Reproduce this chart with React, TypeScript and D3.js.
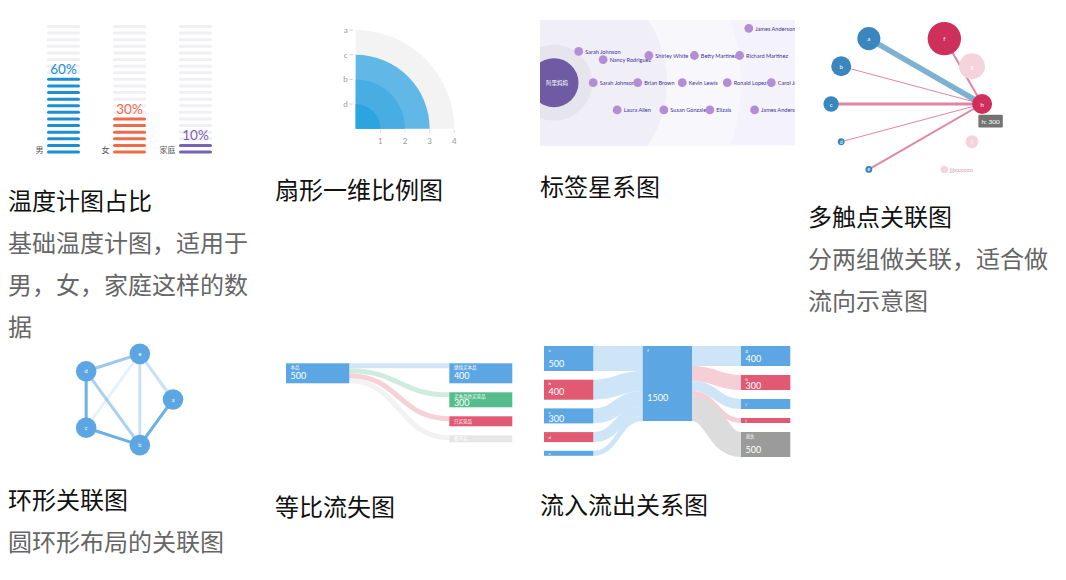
import * as d3 from "d3";

const W = 1066;
const H = 580;
const CJK = "'Noto Sans CJK SC', sans-serif";
const LATIN = "Lato, 'Noto Sans CJK SC', sans-serif";

// 温度计图占比
const thermoCats = ["男", "女", "家庭"];
const thermoValues = [60, 30, 10];
const STRIPES = 20;

// 扇形一维比例图
const fanCats = ["a", "c", "b", "d"];
const fanValues = [4, 3, 2, 1];
const fanTicks = [1, 2, 3, 4];

// 标签星系图
const starCenter = "阿里妈妈";
const starNames = [
  "James Anderson", "Sarah Johnson", "Nancy Rodriguez", "Shirley White", "Betty Martinez",
  "Richard Martinez", "Sarah Johnson", "Brian Brown", "Kevin Lewis", "Ronald Lopez",
  "Carol Jones", "Laura Allen", "Susan Gonzalez", "Elizais", "James Anderson",
];
const starDist = [80.5, 10.2, 20.3, 39.2, 58, 76.7, 16.2, 34.6, 53, 71.6, 89.8, 26.1, 45.4, 64.4, 82.9];
const starLat = [-2, -1.15, -0.85, -1, -1, -1, 0, 0, 0, 0, 0, 1, 1, 1, 1];
const starRings = [77.3, 46.7, 15.7];

// 多触点关联图
const touchLeft = ["a", "b", "c", "d", "e"];
const touchLeftValues = [400, 300, 180, 35, 35];
const touchRight = ["f", "g", "h", "i", "jjjxxxooo"];
const touchRightValues = [840, 500, 300, 125, 40];
const touchTarget = "h";
const touchLinkSources = ["a", "b", "c", "d", "e", "f"];
const touchLinkValues = [110, 20, 60, 20, 40, 40];

// 环形关联图
const ringNodes = ["a", "b", "c", "d", "e"];
const ringLinks: [string, string][] = [
  ["e", "d"], ["e", "a"], ["e", "b"], ["e", "c"], ["d", "c"], ["d", "b"], ["c", "b"], ["a", "b"],
];
const ringLinkValues = [6, 3, 3, 1, 9, 5, 9, 9];

// 等比流失图
const lossSource = "本品";
const lossSourceValue = 500;
const lossTargets = ["继续买本品", "买本品也买竞品", "只买竞品", "都不买"];
const lossValues = [400, 300, 200, 100];

// 流入流出关系图
const flowIn = ["a", "b", "c", "d", "e"];
const flowInValues = [500, 400, 300, 200, 100];
const flowHub = "f";
const flowOut = ["g", "h", "i", "j", "流失"];
const flowOutValues = [400, 300, 200, 100, 500];

const BLUE = "#5ca7e3";
const RED = "#e15a74";
const GREEN = "#55bd8b";
const GRAY = "#9b9b9b";
const tint = (c: string, k: number) => d3.interpolateRgb("#ffffff", c)(k);

function Thermo() {
  const colors = ["#1b8fd2", "#f06a48", "#7a62b6"];
  const x = d3.scaleBand<string>().domain(thermoCats).range([47, 212]).paddingInner(0.5);
  const y = d3.scaleLinear().domain([0, STRIPES - 1]).range([152, 26.5]);
  const count = d3.scaleLinear().domain([0, 100]).range([0, STRIPES]);
  return (
    <g>
      {thermoCats.map((c, i) => {
        const n = Math.round(count(thermoValues[i]));
        const x0 = x(c)!;
        return (
          <g key={c}>
            {d3.range(STRIPES).map((k) => (
              <rect key={k} x={x0} y={y(k) - 1.5} width={x.bandwidth()} height={3} rx={1.5}
                fill={k < n ? colors[i] : "#efeff4"} />
            ))}
            <text x={x0 + x.bandwidth() / 2} y={y(n - 1) - 10.3} textAnchor="middle"
              dominantBaseline="central" fontSize={13.5} fill={colors[i]}
              fontFamily={LATIN}>{thermoValues[i]}%</text>
            <text x={x0 - 3.5} y={y(0) - 2.5} textAnchor="end" dominantBaseline="central"
              fontSize={8} fill="#555" fontFamily={CJK}>{c}</text>
          </g>
        );
      })}
    </g>
  );
}

function Fan() {
  const cx = 355.7;
  const cy = 128.7;
  const colors = ["#f3f3f3", "#61b8e7", "#47ade3", "#2ba4df"];
  const r = d3.scaleLinear().domain([0, 4]).range([0, 98.6]);
  const arc = d3.arc<number>().innerRadius(0).outerRadius((d) => r(d)).startAngle(0).endAngle(Math.PI / 2);
  return (
    <g>
      {fanValues.map((v, i) => (
        <path key={fanCats[i]} d={arc(v) ?? ""} transform={`translate(${cx},${cy})`} fill={colors[i]} />
      ))}
      {fanCats.map((c, i) => (
        <g key={c}>
          <line x1={cx - 6} x2={cx - 3} y1={cy - r(fanValues[i])} y2={cy - r(fanValues[i])} stroke="#ccc" />
          <text x={cx - 8} y={cy - r(fanValues[i])} textAnchor="end" dominantBaseline="central"
            fontSize={8} fill="#999" fontFamily={LATIN}>{c}</text>
        </g>
      ))}
      {fanTicks.map((t) => (
        <g key={t}>
          <line x1={cx + r(t)} x2={cx + r(t)} y1={cy + 1} y2={cy + 4} stroke="#ddd" />
          <text x={cx + r(t)} y={cy + 12.5} textAnchor="middle" dominantBaseline="central"
            fontSize={8} fill="#999" fontFamily={LATIN}>{t}</text>
        </g>
      ))}
    </g>
  );
}

function Star() {
  const box = { x: 540, y: 20, w: 255, h: 125.7 };
  const cx = 554;
  const cy = 82.7;
  const x = d3.scaleLinear().domain([0, 100]).range([cx, cx + 242]);
  const y = d3.scaleLinear().domain([-1, 1]).range([cy - 27.2, cy + 27.2]);
  const ringFill = ["#f8f7fc", "#f0eef6", "#e6e4ec"];
  return (
    <g>
      <defs>
        <clipPath id="starclip">
          <rect x={box.x} y={box.y} width={box.w} height={box.h} />
        </clipPath>
      </defs>
      <g clipPath="url(#starclip)">
        <rect x={box.x} y={box.y} width={box.w} height={box.h} fill="#f4f2fa" />
        {starRings.map((d, i) => (
          <circle key={i} cx={cx} cy={cy} r={x(d) - cx} fill={ringFill[i]} />
        ))}
        <circle cx={cx} cy={cy} r={24.5} fill="#6f5ba4" />
        <text x={cx + 3} y={cy} textAnchor="middle" dominantBaseline="central" fontSize={5.5}
          fill="#fff" fontFamily={CJK}>{starCenter}</text>
        {starNames.map((n, i) => (
          <text key={"t" + i} x={x(starDist[i]) + 6.5} y={y(starLat[i])} dominantBaseline="central"
            fontSize={5.6} fill="#3f3399" fontFamily={LATIN}>{n}</text>
        ))}
        {starNames.map((n, i) => (
          <circle key={"c" + i} cx={x(starDist[i])} cy={y(starLat[i])} r={4.4} fill="#b48dd6" />
        ))}
      </g>
    </g>
  );
}

function Touch() {
  const c = { x: 906.6, y: 104 };
  const R = 75.5;
  const ang = d3.scaleLinear().domain([0, 4]).range([60, -60]);
  const rS = d3.scaleSqrt().domain([0, 840]).range([0, 16.7]);
  const wS = d3.scaleLinear().domain([0, 110]).range([0, 5.5]);
  const place = (names: string[], vals: number[], side: number) =>
    names.map((n, i) => {
      const a = (ang(i) * Math.PI) / 180;
      return { name: n, v: vals[i], x: c.x + side * R * Math.cos(a), y: c.y - R * Math.sin(a), r: rS(vals[i]) };
    });
  const left = place(touchLeft, touchLeftValues, -1);
  const right = place(touchRight, touchRightValues, 1);
  const all = [...left, ...right];
  const tgt = all.find((d) => d.name === touchTarget)!;
  const active = new Set([touchTarget, ...touchLinkSources]);
  return (
    <g>
      {touchLinkSources.map((s, i) => {
        const src = all.find((d) => d.name === s)!;
        const blue = touchLeft.includes(s) && i === 0;
        return (
          <line key={s} x1={src.x} y1={src.y} x2={tgt.x} y2={tgt.y} strokeWidth={wS(touchLinkValues[i])}
            stroke={blue ? "#6fa9cc" : "#d8678b"} strokeOpacity={blue ? 0.9 : 0.8} />
        );
      })}
      {left.map((d) => (
        <g key={d.name}>
          <circle cx={d.x} cy={d.y} r={d.r} fill="#3a86bf" />
          <text x={d.x} y={d.y} textAnchor="middle" dominantBaseline="central" fontSize={Math.min(6, d.r * 1.4)}
            fill="#fff" fontFamily={LATIN}>{d.name}</text>
        </g>
      ))}
      {right.map((d, i) => {
        const on = active.has(d.name);
        const last = i === right.length - 1;
        return (
          <g key={d.name}>
            <circle cx={d.x} cy={d.y} r={d.r} fill={on ? "#cf2f5b" : "#f4d3dd"} />
            {last ? (
              <text x={d.x + d.r + 1.8} y={d.y} dominantBaseline="central" fontSize={6}
                fill="#e3a0b5" fontFamily={LATIN}>{d.name}</text>
            ) : (
              <text x={d.x} y={d.y} textAnchor="middle" dominantBaseline="central" fontSize={6}
                fill="#fff" fontFamily={LATIN}>{d.name}</text>
            )}
          </g>
        );
      })}
      <rect x={tgt.x - 3.7} y={tgt.y + 10.7} width={24.4} height={12.7} rx={1} fill="#737373" />
      <text x={tgt.x + 8.5} y={tgt.y + 17.1} textAnchor="middle" dominantBaseline="central" fontSize={6.5}
        fill="#fff" fontFamily={LATIN}>{`${tgt.name}: ${tgt.v}`}</text>
    </g>
  );
}

function Ring() {
  const c = { x: 125, y: 399.5 };
  const R = 48;
  const ang = d3.scaleLinear().domain([0, ringNodes.length]).range([0, 2 * Math.PI]);
  const pos = new Map(ringNodes.map((n, i) => [n, { x: c.x + R * Math.cos(ang(i)), y: c.y + R * Math.sin(ang(i)) }]));
  const op = d3.scaleLinear().domain([0, 9]).range([0.06, 0.9]);
  return (
    <g>
      {ringLinks.map(([s, t], i) => (
        <line key={s + t} x1={pos.get(s)!.x} y1={pos.get(s)!.y} x2={pos.get(t)!.x} y2={pos.get(t)!.y}
          stroke={BLUE} strokeWidth={3} strokeOpacity={op(ringLinkValues[i])} />
      ))}
      {ringNodes.map((n) => (
        <g key={n}>
          <circle cx={pos.get(n)!.x} cy={pos.get(n)!.y} r={10.3} fill={BLUE} />
          <text x={pos.get(n)!.x} y={pos.get(n)!.y} textAnchor="middle" dominantBaseline="central"
            fontSize={5.5} fill="#fff" fontFamily={LATIN}>{n}</text>
        </g>
      ))}
    </g>
  );
}

type Box = { x: number; y: number; w: number; h: number; fill: string; name: string; value?: number; textFill?: string };

function NodeBox({ b }: { b: Box }) {
  const big = b.h >= 15;
  const vy = b.y + Math.min(Math.max(b.h - 4.3, 13.6), b.h / 2 + 17);
  return (
    <g>
      <rect x={b.x} y={b.y} width={b.w} height={b.h} fill={b.fill} />
      <text x={b.x + 4.6} y={big ? b.y + 4 : b.y + b.h / 2} dominantBaseline="central" fontSize={4.5}
        fill={b.textFill ?? "#fff"} fontFamily={LATIN}>{b.name}</text>
      {big && b.value != null && (
        <text x={b.x + 4.6} y={vy} fontSize={9} fill="#fff" fontFamily={LATIN}>{b.value}</text>
      )}
    </g>
  );
}

const stackTops = (hs: number[], top: number, gap: number) => {
  let y = top;
  return hs.map((h) => {
    const t = y;
    y += h + gap;
    return t;
  });
};

function Loss() {
  const colors = [BLUE, GREEN, RED, "#e6e6e6"];
  const hS = d3.scaleLinear().domain([0, 400]).range([0, 20]);
  const heights = lossValues.map((v) => Math.max(hS(v), 7));
  const tops = stackTops(heights, 363.3, 9);
  const src: Box = { x: 286, y: 363.3, w: 63.3, h: hS(d3.max(lossValues)!), fill: BLUE, name: lossSource, value: lossSourceValue };
  const tx = 449.3;
  const lw = src.h / lossTargets.length;
  const link = d3.linkHorizontal();
  return (
    <g>
      {lossTargets.map((t, i) => (
        <path key={t} fill="none" stroke={tint(colors[i] === "#e6e6e6" ? "#cfcfcf" : colors[i], 0.28)} strokeWidth={lw}
          d={link({ source: [src.x + src.w, src.y + lw * (i + 0.5)], target: [tx, tops[i] + lw / 2] }) ?? ""} />
      ))}
      <NodeBox b={src} />
      {lossTargets.map((t, i) => (
        <NodeBox key={t} b={{ x: tx, y: tops[i], w: 63, h: heights[i], fill: colors[i], name: t, value: lossValues[i] }} />
      ))}
    </g>
  );
}

function Flow() {
  const hS = d3.scaleLinear().domain([0, 100]).range([0, 5]);
  const inH = flowInValues.map((v) => hS(v));
  const outH = flowOutValues.map((v) => hS(v));
  const inTops = stackTops(inH, 346, 8.7);
  const outTops = stackTops(outH, 346, 9);
  const hubV = d3.sum(flowInValues);
  const hub: Box = { x: 642.7, y: 346, w: 49.3, h: hS(hubV), fill: BLUE, name: flowHub, value: hubV };
  const inCol = [BLUE, RED, BLUE, RED, BLUE];
  const outCol = [BLUE, RED, BLUE, RED, GRAY];
  const lx = 544, rx = 741, nw = 49.3;
  const link = d3.linkHorizontal();
  const inOff = stackTops(inH, hub.y, 0);
  const outOff = stackTops(outH, hub.y, 0);
  return (
    <g>
      {flowIn.map((n, i) => (
        <path key={"l" + n} fill="none" stroke={tint(BLUE, 0.3)} strokeWidth={inH[i]}
          d={link({ source: [lx + nw, inTops[i] + inH[i] / 2], target: [hub.x, inOff[i] + inH[i] / 2] }) ?? ""} />
      ))}
      {flowOut.map((n, i) => (
        <path key={"r" + n} fill="none" stroke={tint(outCol[i], outCol[i] === GRAY ? 0.35 : 0.3)} strokeWidth={outH[i]}
          d={link({ source: [hub.x + hub.w, outOff[i] + outH[i] / 2], target: [rx, outTops[i] + outH[i] / 2] }) ?? ""} />
      ))}
      {flowIn.map((n, i) => (
        <NodeBox key={n} b={{ x: lx, y: inTops[i], w: nw, h: inH[i], fill: inCol[i], name: n, value: flowInValues[i] }} />
      ))}
      <NodeBox b={hub} />
      {flowOut.map((n, i) => (
        <NodeBox key={n} b={{ x: rx, y: outTops[i], w: nw, h: outH[i], fill: outCol[i], name: n, value: flowOutValues[i] }} />
      ))}
    </g>
  );
}

function Caption({ x, y, title, desc = [] }: { x: number; y: number; title: string; desc?: string[] }) {
  return (
    <g fontFamily={CJK} fontSize={24}>
      <text x={x} y={y} dominantBaseline="central" fill="#111">{title}</text>
      {desc.map((d, i) => (
        <text key={i} x={x} y={y + 42.3 * (i + 1)} dominantBaseline="central" fill="#666">{d}</text>
      ))}
    </g>
  );
}

export default function App() {
  return (
    <svg width={W} height={H} style={{ position: "absolute", left: 0, top: 0, background: "#fff" }}>
      <Thermo />
      <Fan />
      <Star />
      <Touch />
      <Ring />
      <Loss />
      <Flow />
      <Caption x={8} y={199} title="温度计图占比" desc={["基础温度计图，适用于", "男，女，家庭这样的数", "据"]} />
      <Caption x={275} y={188} title="扇形一维比例图" />
      <Caption x={540} y={185} title="标签星系图" />
      <Caption x={808} y={215} title="多触点关联图" desc={["分两组做关联，适合做", "流向示意图"]} />
      <Caption x={8} y={498} title="环形关联图" desc={["圆环形布局的关联图"]} />
      <Caption x={275} y={505} title="等比流失图" />
      <Caption x={540} y={503} title="流入流出关系图" />
    </svg>
  );
}
